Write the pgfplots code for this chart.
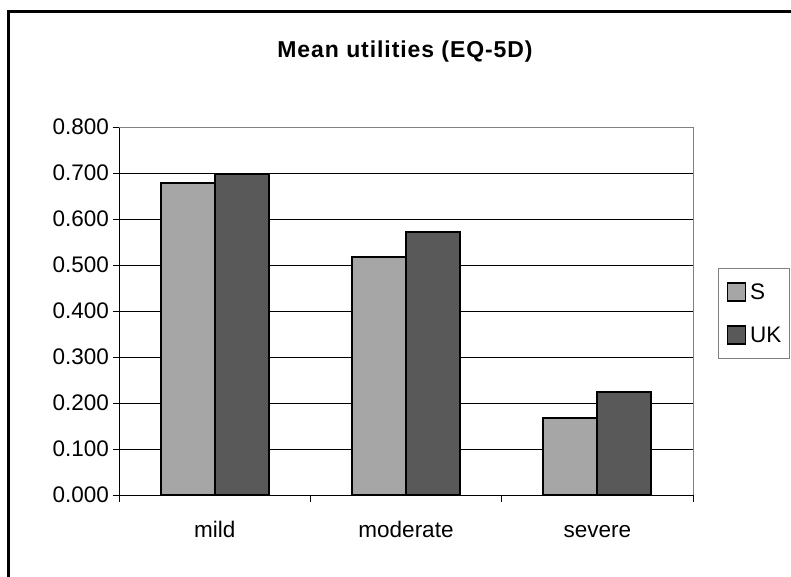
\documentclass[border=0pt]{standalone}
\usepackage{fontspec}
\setmainfont{Liberation Sans}
\usepackage{pgfplots}
\pgfplotsset{compat=1.18}
\definecolor{lightbar}{RGB}{166,166,166}
\definecolor{darkbar}{RGB}{89,89,89}
\definecolor{framegray}{RGB}{128,128,128}

\begin{document}
\begin{tikzpicture}[x=1pt,y=1pt]
% chart border: only its top and left edge fall inside the picture
\draw[line width=2.5pt] (8.5,-20) -- (8.5,564.5) -- (820,564.5);
\node[anchor=base, font=\bfseries\fontsize{23}{27}\selectfont] at (405,518)
  {\addfontfeature{LetterSpace=4}Mean utilities (EQ-5D)};
\begin{axis}[
  at={(119pt,81pt)}, anchor=south west,
  scale only axis, width=574pt, height=368pt,
  xmin=-0.5, xmax=2.5, ymin=0, ymax=0.8,
  clip=false,
  axis x line*=bottom, axis y line*=left,
  axis line style={black, line width=1pt},
  tick align=outside, major tick length=6.5pt,
  tick style={black, line width=1pt},
  ytick={0,0.1,0.2,0.3,0.4,0.5,0.6,0.7,0.8},
  ymajorgrids, major grid style={black, line width=0.9pt},
  xtick={-0.5,0.5,1.5,2.5}, xticklabels={},
  extra x ticks={0,1,2}, extra x tick labels={mild,moderate,severe},
  extra x tick style={major tick length=0pt, grid=none},
  xticklabel style={anchor=base, yshift=-42pt},
  yticklabel style={/pgf/number format/fixed,
    /pgf/number format/fixed zerofill, /pgf/number format/precision=3},
  /pgf/number format/assume math mode=true,
  tick label style={font=\fontsize{22.5}{26}\selectfont},
  ybar, bar width=0.282,
  legend style={at={(1.0436,0.6168)}, anchor=north west, draw=framegray,
    line width=1pt, inner xsep=8pt, inner ysep=13.5pt, row sep=23.5pt,
    column sep=4pt,
    nodes={inner sep=0pt, text height=16pt, text depth=0pt,
      font=\fontsize{22.5}{26}\selectfont}},
  legend cell align=left,
  legend image code/.code={\draw[#1, line width=1.5pt] (0pt,-9pt) rectangle (18pt,9pt);},
]
\addplot[fill=lightbar, draw=black, line width=1.8pt, bar shift=-0.141]
  coordinates {(0,0.678) (1,0.517) (2,0.167)};
\addlegendentry{S\hspace{40pt}}
\addplot[fill=darkbar, draw=black, line width=1.8pt, bar shift=0.141]
  coordinates {(0,0.698) (1,0.572) (2,0.224)};
\addlegendentry{UK\hspace{40pt}}
\draw[framegray, line width=1pt] (rel axis cs:0,1) -- (rel axis cs:1,1) -- (rel axis cs:1,0);
\end{axis}
\pgfresetboundingbox
\useasboundingbox (0,0) rectangle (791,576);
\end{tikzpicture}
\end{document}
